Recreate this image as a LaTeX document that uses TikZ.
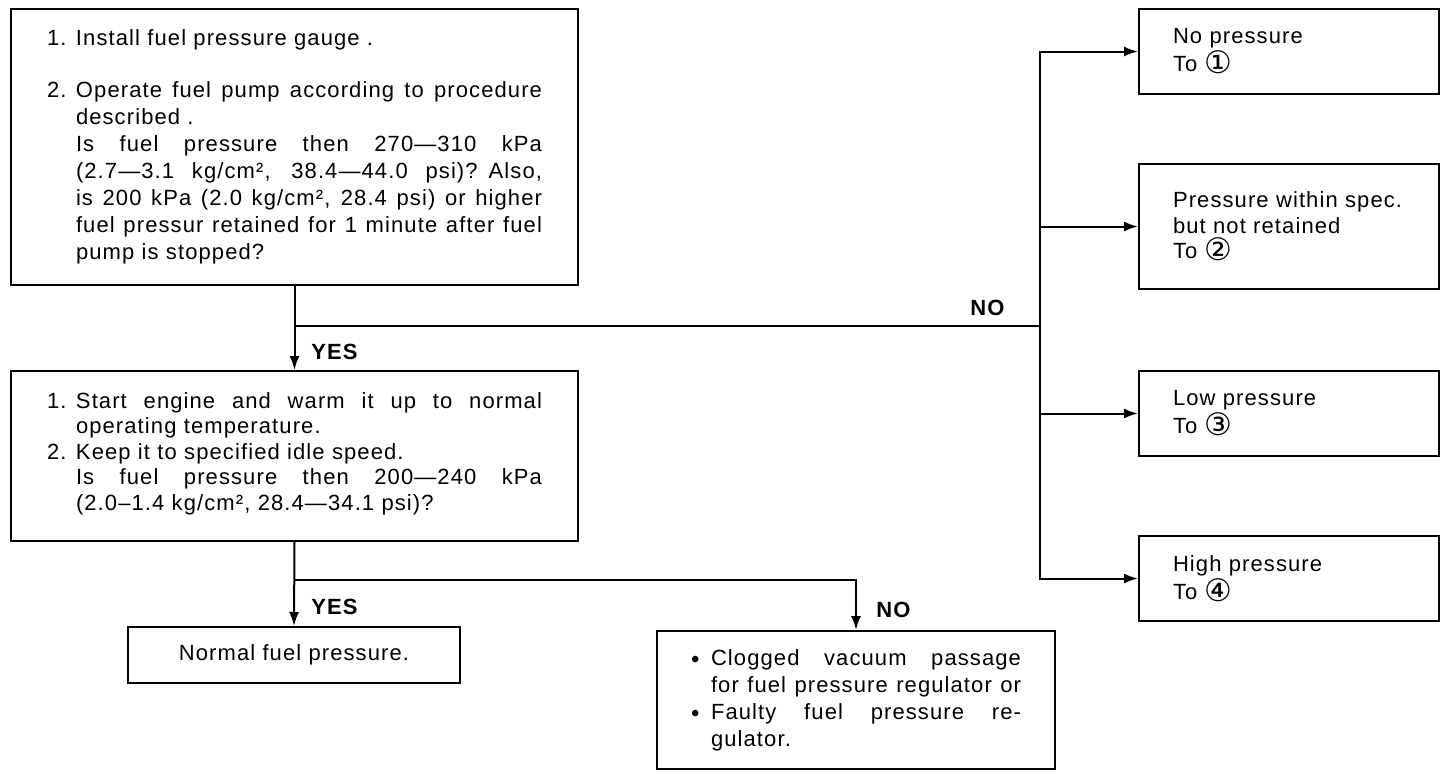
\documentclass[tikz,border=0pt]{standalone}
\usepackage{fontspec}
\setmainfont{Liberation Sans}[LetterSpace=5.0]
\newfontfamily\dvfont{DejaVu Sans}
\usetikzlibrary{arrows.meta}
\newcommand{\numl}[1]{\makebox[14.5pt][l]{#1}}
\newcommand{\ind}{\hspace*{14.5pt}}
\newcommand{\jl}[2]{\makebox[#1][s]{\spaceskip=0.3em plus 1fil\relax #2}}
\newcommand{\cn}[1]{\raisebox{-1pt}{\dvfont\fontsize{15.5}{12}\selectfont #1}}
\newcommand{\bul}{\makebox[10pt][l]{\raisebox{-1.2pt}{\fontsize{12}{8}\selectfont •}}}
\begin{document}
\begin{tikzpicture}[x=0.5pt,y=-0.5pt,
  txt/.style={font=\fontsize{11}{12.75}\selectfont},
  box/.style={draw, line width=1pt, rectangle, anchor=north west, inner ysep=0pt, txt},
  bigbox/.style={box, inner xsep=18pt, text width=247.5pt, align=left, minimum width=283.5pt},
  rbox/.style={box, inner xsep=17pt, text width=116pt, align=left, minimum width=150pt},
  lab/.style={font=\bfseries\fontsize{11}{12}\selectfont, anchor=west, inner sep=0pt},
  conn/.style={line width=1pt},
  arr/.style={conn, -{Latex[length=7pt,width=5pt]}}]
\useasboundingbox (0,0) rectangle (1456,776);

\node[bigbox, minimum height=138pt, font=\fontsize{11}{13.5}\selectfont] (b1) at (10,8) {%
\numl{1.}Install fuel pressure gauge .\\[12.5pt]
\numl{2.}\jl{233pt}{Operate fuel pump according to procedure}\\
\ind described .\\
\ind\jl{233pt}{Is fuel pressure then 270—310 kPa}\\
\ind\jl{233pt}{(2.7—3.1 kg/cm², 38.4—44.0 psi)? Also,}\\
\ind\jl{233pt}{is 200 kPa (2.0 kg/cm², 28.4 psi) or higher}\\
\ind\jl{233pt}{fuel pressur retained for 1 minute after fuel}\\
\ind pump is stopped?};

\node[bigbox, minimum height=85pt] (b2) at (10,370) {%
\numl{1.}\jl{233pt}{Start engine and warm it up to normal}\\
\ind operating temperature.\\
\numl{2.}Keep it to specified idle speed.\\
\ind\jl{233pt}{Is fuel pressure then 200—240 kPa}\\
\ind (2.0–1.4 kg/cm², 28.4—34.1 psi)?\\[-8pt]\mbox{}};

\node[rbox, minimum height=42.5pt, font=\fontsize{11}{14}\selectfont] (rA) at (1138,8) {%
\mbox{No pressure}\\ \mbox{To \cn{①}}};
\node[rbox, minimum height=62.5pt] (rB) at (1138,163) {%
\mbox{Pressure within spec.}\\ \mbox{but not retained}\\ \mbox{To \cn{②}}};
\node[rbox, minimum height=42.5pt, font=\fontsize{11}{14}\selectfont] (rC) at (1138,370) {%
\mbox{Low pressure}\\ \mbox{To \cn{③}}};
\node[rbox, minimum height=42.5pt, font=\fontsize{11}{14}\selectfont] (rD) at (1138,535) {%
\mbox{High pressure}\\ \mbox{To \cn{④}}};

\node[box, minimum width=166pt, minimum height=28pt, inner xsep=0pt, align=center] (nb) at (127,626) {Normal fuel pressure.};

\node[box, inner xsep=17pt, text width=165pt, minimum width=199pt, minimum height=69pt, align=left, font=\fontsize{11}{13.5}\selectfont] (cb) at (656,630) {%
\bul\jl{155pt}{Clogged vacuum passage}\\
\hspace*{10pt}\jl{155pt}{for fuel pressure regulator or}\\
\bul\jl{155pt}{Faulty fuel pressure re-}\\
\hspace*{10pt}gulator.};

\coordinate (ny) at (0,326);
\coordinate (j1) at (b1.south |- ny);
\coordinate (j2) at (1040,326);
\coordinate (yy) at (0,580);
\coordinate (j3) at (b2.south |- yy);

\draw[arr] (b1.south) -- (b2.north);
\draw[conn] (j1) -- (j2);
\draw[arr] (j2) |- (rA.west);
\draw[arr] (j2) |- (rB.west);
\draw[arr] (j2) |- (rC.west);
\draw[arr] (j2) |- (rD.west);

\draw[arr] (b2.south) -- (nb.north);
\draw[arr] (j3) -| (cb.north);

\node[lab] (yes1) at (311,352) {YES};
\node[lab] (no1) at (970,308) {NO};
\node[lab] (yes2) at (311,607) {YES};
\node[lab] (no2) at (876,610) {NO};
\end{tikzpicture}
\end{document}
